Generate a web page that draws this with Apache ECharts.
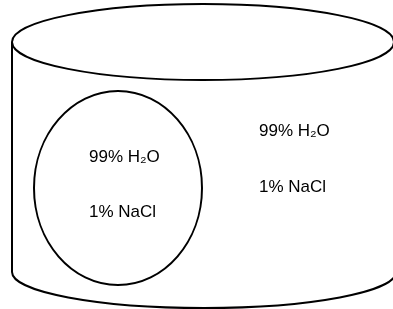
<!DOCTYPE html>
<html>
<head>
<meta charset="utf-8">
<script src="https://cdn.jsdelivr.net/npm/echarts@6/dist/echarts.min.js"></script>
<style>
  html, body { margin: 0; padding: 0; background: #fff; }
  #chart { width: 393px; height: 309px; }
</style>
</head>
<body>
<div id="chart"></div>
<script>
// diagram data in axis units (1 unit = 1 px here)
const rim = [203, 42, 191, 38];        // cx, cy, rx, ry of the top opening
const base = [204, 272, 192, 36];      // cx, cy, rx, ry of the bottom curve (right wall runs off the page)
const cell = [118, 188, 84, 97];       // cx, cy, rx, ry of the cell
const labelText = ['99% H₂O', '1% NaCl', '99% H₂O', '1% NaCl'];
const labelX = [89, 89, 259, 259];
const labelY = [157, 212, 131, 187];

const STROKE = '#000';
const LW = 2;

let chart = echarts.init(document.getElementById('chart'));

function ellipseItem(params, api) {
  const c = api.coord([api.value(0), api.value(1)]);
  const s = api.size([api.value(2), api.value(3)]);
  return {
    type: 'ellipse',
    shape: { cx: c[0], cy: c[1], rx: s[0], ry: s[1] },
    style: { fill: 'none', stroke: STROKE, lineWidth: LW }
  };
}

function wallItem(params, api) {
  // sides of the beaker plus the lower half ellipse
  const l = api.coord([base[0] - base[2], rim[1]]);
  const lb = api.coord([base[0] - base[2], base[1]]);
  const rb = api.coord([base[0] + base[2], base[1]]);
  const r = api.coord([base[0] + base[2], rim[1]]);
  const s = api.size([base[2], base[3]]);
  const d = 'M' + l[0] + ' ' + l[1] + ' L' + lb[0] + ' ' + lb[1] +
    ' A' + s[0] + ' ' + s[1] + ' 0 0 0 ' + rb[0] + ' ' + rb[1] +
    ' L' + r[0] + ' ' + r[1];
  return {
    type: 'path',
    shape: { pathData: d },
    style: { fill: 'none', stroke: STROKE, lineWidth: LW }
  };
}

function textItem(params, api) {
  const p = api.coord([api.value(0), api.value(1)]);
  return {
    type: 'text',
    style: {
      text: labelText[params.dataIndex],
      x: p[0], y: p[1],
      fill: '#000',
      fontSize: 17,
      fontFamily: 'Liberation Sans, Arial, sans-serif',
      align: 'left',
      verticalAlign: 'middle'
    }
  };
}

let option = {
  animation: false,
  grid: { left: 0, right: 0, top: 0, bottom: 0 },
  xAxis: { type: 'value', min: 0, max: 393, show: false },
  yAxis: { type: 'value', min: 0, max: 309, inverse: true, show: false },
  series: [
    { type: 'custom', clip: false, renderItem: wallItem, data: [[0, 0]] },
    { type: 'custom', clip: false, renderItem: ellipseItem, data: [rim, cell] },
    {
      type: 'custom', clip: false, renderItem: textItem,
      data: labelX.map((x, i) => [x, labelY[i]])
    }
  ]
};
chart.setOption(option);
</script>
</body>
</html>
